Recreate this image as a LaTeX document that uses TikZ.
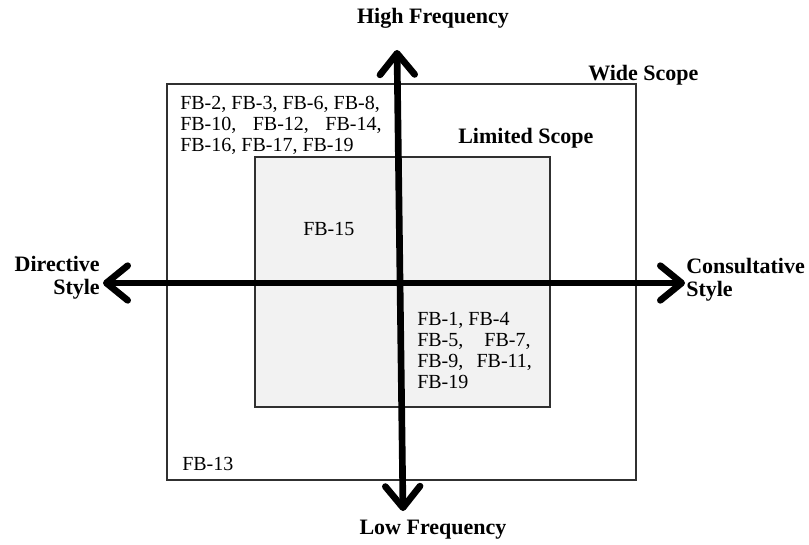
\documentclass[tikz,border=0pt]{standalone}
\usepackage{fontspec}
\setmainfont{Liberation Serif}
\usetikzlibrary{arrows.meta}
\definecolor{boxfill}{HTML}{F2F2F2}
\definecolor{boxline}{HTML}{303030}
\tikzset{
	scopebox/.style={draw=boxline,line width=1.1pt},
	axisarrow/.style={line width=5pt,{Straight Barb[length=16pt,width=26pt,round]}-{Straight Barb[length=16pt,width=26pt,round]}},
	fblist/.style={inner sep=0pt,anchor=north west,align=left,font=\fontsize{15}{15.75}\selectfont},
	axislabel/.style={inner sep=0pt,font=\fontsize{16.5}{17.25}\selectfont\bfseries},
}
\newcommand{\fbrow}[2]{\makebox[#1][s]{#2}}

\begin{document}
\begin{tikzpicture}[x=0.75pt,y=-0.75pt]
	\useasboundingbox (0,0) rectangle (809,545);
	
	%scopes
	\draw[scopebox] (167,84) rectangle (636,480);				%wide scope
	\draw[scopebox,fill=boxfill] (255,157) rectangle (550,407);	%limited scope
	\node[axislabel,anchor=west] (wide) at (588,75) {Wide Scope};
	\node[axislabel,anchor=west] (limited) at (458,138) {Limited Scope};
	
	%axis
	\coordinate (top) at (397,50);
	\coordinate (bottom) at (403,511);
	\coordinate (left) at (103,283);
	\coordinate (right) at (685,283);
	\draw[axisarrow] (bottom)--(top);		%frequency
	\draw[axisarrow] (left)--(right);		%style
	\node[axislabel] (high) at (433,18) {High Frequency};
	\node[axislabel] (low) at (433,530) {Low Frequency};
	\node[axislabel,anchor=east,align=right] (directive) at (100,278) {Directive\\Style};
	\node[axislabel,anchor=west,align=left] (consult) at (686,280) {Consultative\\Style};
	
	%feedback items
	\node[fblist] (wideitems) at (180,96) {FB-2, FB-3, FB-6, FB-8,\\\fbrow{151pt}{FB-10, FB-12, FB-14,}\\FB-16, FB-17, FB-19};
	\node[fblist] (fb15) at (303,222) {FB-15};
	\node[fblist] (consultitems) at (417,312) {FB-1, FB-4\\\fbrow{85pt}{FB-5, FB-7,}\\\fbrow{86pt}{FB-9, FB-11,}\\FB-19};
	\node[fblist] (fb13) at (182,457) {FB-13};
	
	%\draw[help lines] (0,0) grid (809,545);
\end{tikzpicture}
\end{document}
